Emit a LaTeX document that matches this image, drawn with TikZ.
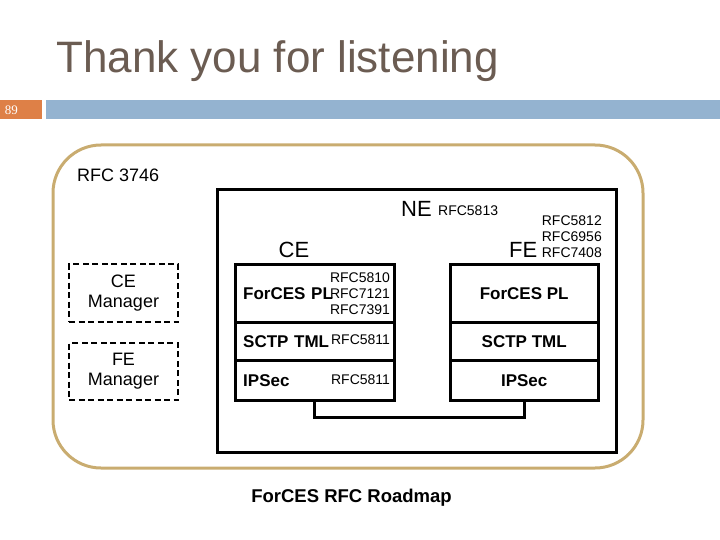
\documentclass[tikz,border=0pt]{standalone}
\usepackage{fontspec}
\setmainfont{Liberation Sans}
\newfontfamily\slidenumfont{Liberation Serif}
\usetikzlibrary{matrix,positioning}
\definecolor{titlegray}{RGB}{107,92,82}
\definecolor{framegold}{RGB}{201,172,112}
\definecolor{barblue}{RGB}{148,179,208}
\definecolor{barorange}{RGB}{222,128,71}
\def\Stacks{
    \matrix (stack)
    [matrix of nodes,
    ampersand replacement=\&,
    anchor=north west,
    inner sep=0pt,
    column sep={53pt},
    row sep={-3pt},
    nodes={outer sep=0pt,draw,rectangle,line width=3pt,font=\bfseries\fontsize{17}{20}\selectfont},
    ce/.style={text width=143pt,align=left,inner xsep=8pt},
    fe/.style={minimum width=148pt}]
    at (233.5,262.5)
    {
     |[ce,minimum height=58pt]| ForCES PL \& |[fe,minimum height=58pt]| ForCES PL \\
     |[ce,minimum height=38pt]| SCTP TML \& |[fe,minimum height=38pt]| SCTP TML \\
     |[ce,minimum height=40pt]| IPSec \& |[fe,minimum height=40pt]| IPSec \\
};
}
\begin{document}
\begin{tikzpicture}[x=1pt,y=-1pt,
    rfc/.style={inner sep=0pt,font=\fontsize{14}{16}\selectfont},
    big/.style={inner sep=0pt,font=\fontsize{22}{24}\selectfont},
    manager/.style={draw,line width=2.6pt,dash pattern=on 6pt off 3.5pt,minimum width=109pt,
        align=center,font=\fontsize{18}{20}\selectfont}]
    \useasboundingbox (0,0) rectangle (720,540);
    \node (title) [anchor=base west,inner sep=0pt,text=titlegray,font=\fontsize{44}{50}\selectfont] at (56,73) {Thank you for listening};
    \fill[barorange] (0,100) rectangle (42,119);
    \fill[barblue] (46,100) rectangle (720,119);
    \node (slidenum) [text=white,font=\slidenumfont\fontsize{13}{15}\selectfont] at (11.5,110) {89};
    \node (frame) [draw=framegold,line width=3pt,rounded corners=48pt,minimum width=590pt,minimum height=323pt] at (348,306.5) {};
    \node (rfcarch) [anchor=base west,inner sep=0pt,font=\fontsize{18}{20}\selectfont] at (77,182) {RFC 3746};
    \node (ne) [draw,line width=3pt,minimum width=399pt,minimum height=262pt] at (416.5,321) {};
    \node (nelabel) [big,anchor=base west] at (401,217) {NE};
    \node (nerfc) [rfc,anchor=base west] at ([xshift=6pt,yshift=2pt]nelabel.base east) {RFC5813};
    \node (celabel) [big,anchor=base] at (294,258) {CE};
    \node (felabel) [big,anchor=base west] at (509,258) {FE};
    \node (ferfc) [rfc,anchor=north east,align=right] at (602,216) {RFC5812\\RFC6956\\RFC7408};
    \node (cemanager) [manager,minimum height=58pt] at (123.5,293) {CE\\Manager};
    \node (femanager) [manager,minimum height=57pt] at (123.5,371.5) {FE\\Manager};
    \Stacks
    \node (plrfc) [rfc,anchor=east,align=right] at ([xshift=-4pt]stack-1-1.east) {RFC5810\\RFC7121\\RFC7391};
    \node (tmlrfc) [rfc,anchor=east] at ([xshift=-4pt,yshift=2pt]stack-2-1.east) {RFC5811};
    \node (ipsecrfc) [rfc,anchor=east] at ([xshift=-4pt,yshift=1pt]stack-3-1.east) {RFC5811};
    \draw[line width=3pt] (stack-3-1.south) -- ++(0,17) -| (stack-3-2.south);
    \node (roadmap) [anchor=base,inner sep=0pt,font=\bfseries\fontsize{18.5}{20}\selectfont] at (351.5,502) {ForCES RFC Roadmap};
  \end{tikzpicture}
\end{document}
